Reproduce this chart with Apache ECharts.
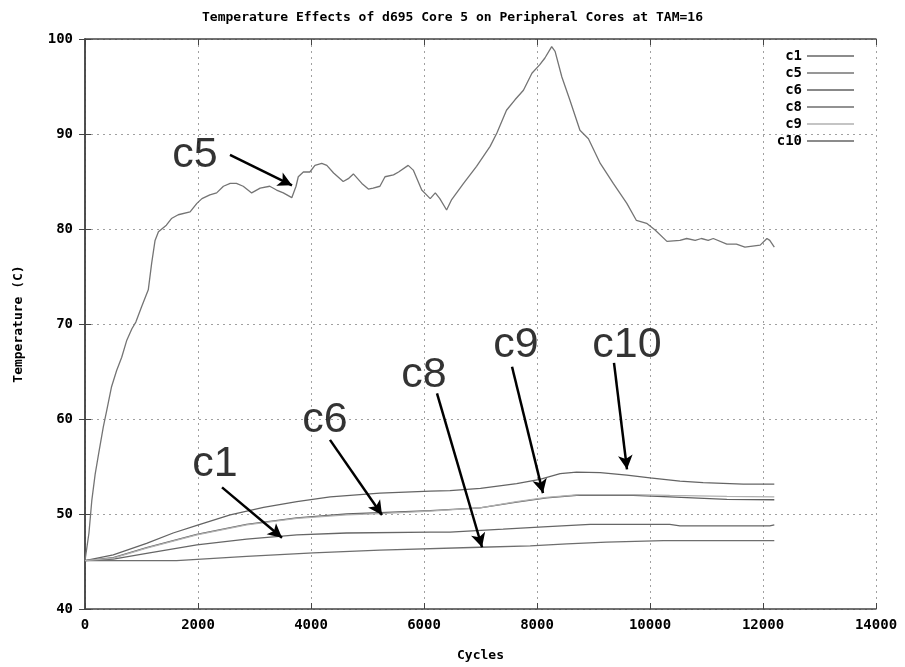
<!DOCTYPE html>
<html>
<head>
<meta charset="utf-8">
<script src="https://cdn.jsdelivr.net/npm/echarts@6/dist/echarts.min.js"></script>
<style>html,body{margin:0;padding:0;background:#fff}#chart{width:905px;height:667px}</style>
</head>
<body>
<div id="chart"></div>
<script>
// ---- data ----
var seriesNames = ['c1', 'c5', 'c6', 'c8', 'c9', 'c10'];

var c1X = [0, 500, 1090, 1980, 2860, 3750, 4630, 6110, 6460, 7400, 8110, 8940, 10350, 10530, 12120, 12200];
var c1Y = [45.1, 45.25, 45.85, 46.75, 47.35, 47.8, 48.0, 48.1, 48.1, 48.4, 48.65, 48.9, 48.9, 48.75, 48.75, 48.85];

var c5X = [0, 70, 120, 180, 240, 325, 385, 470, 560, 650, 740, 830, 900, 1000, 1120, 1180, 1240, 1300, 1440, 1530, 1650, 1860, 1980, 2070, 2210, 2330, 2450, 2570, 2680, 2800, 2950, 3100, 3270, 3390, 3510, 3660, 3735, 3775, 3865, 3980, 4070, 4190, 4280, 4400, 4570, 4660, 4750, 4900, 5015, 5100, 5220, 5310, 5460, 5550, 5720, 5810, 5960, 6110, 6200, 6280, 6400, 6490, 6700, 6930, 7170, 7290, 7460, 7610, 7760, 7910, 8050, 8140, 8260, 8320, 8440, 8580, 8760, 8910, 9120, 9350, 9590, 9760, 9940, 10090, 10300, 10530, 10650, 10800, 10910, 11030, 11120, 11360, 11530, 11680, 11950, 12070, 12120, 12200];
var c5Y = [45.1, 48.0, 51.4, 54.2, 56.3, 59.2, 60.9, 63.4, 65.1, 66.5, 68.3, 69.5, 70.2, 71.8, 73.6, 76.4, 78.8, 79.7, 80.4, 81.1, 81.5, 81.8, 82.7, 83.2, 83.6, 83.8, 84.5, 84.8, 84.8, 84.5, 83.8, 84.3, 84.5, 84.1, 83.8, 83.3, 84.5, 85.5, 86.0, 86.0, 86.7, 86.9, 86.7, 85.9, 85.0, 85.3, 85.8, 84.8, 84.2, 84.3, 84.5, 85.5, 85.7, 86.0, 86.7, 86.2, 84.1, 83.2, 83.8, 83.2, 82.0, 83.1, 84.8, 86.6, 88.7, 90.1, 92.5, 93.6, 94.6, 96.4, 97.3, 98.0, 99.2, 98.7, 96.0, 93.6, 90.4, 89.5, 86.9, 84.8, 82.7, 80.9, 80.6, 79.9, 78.7, 78.8, 79.0, 78.8, 79.0, 78.8, 79.0, 78.4, 78.4, 78.1, 78.3, 79.0, 78.8, 78.1];

var c6X = [0, 500, 1090, 1980, 2860, 3750, 4630, 5220, 6110, 6990, 7640, 8170, 8760, 9700, 10350, 11360, 12200];
var c6Y = [45.1, 45.4, 46.45, 47.85, 48.9, 49.6, 50.0, 50.15, 50.35, 50.65, 51.25, 51.7, 52.0, 51.95, 51.8, 51.55, 51.5];

var c8X = [0, 1620, 2860, 4040, 5220, 6990, 7880, 8530, 9230, 10240, 12200];
var c8Y = [45.1, 45.1, 45.55, 45.9, 46.2, 46.5, 46.65, 46.85, 47.05, 47.2, 47.2];

var c9X = [0, 500, 1090, 1980, 2860, 3750, 4630, 5220, 6110, 6990, 7640, 8170, 8760, 9700, 10350, 11360, 12200];
var c9Y = [45.1, 45.35, 46.4, 47.8, 48.85, 49.55, 49.9, 50.05, 50.3, 50.65, 51.3, 51.75, 52.05, 52.05, 51.95, 51.85, 51.8];

var c10X = [0, 500, 1090, 1560, 1980, 2570, 3160, 3750, 4340, 5220, 6110, 6460, 7000, 7640, 8050, 8410, 8700, 9120, 9590, 10000, 10530, 10940, 11650, 12200];
var c10Y = [45.1, 45.7, 46.9, 48.0, 48.8, 49.9, 50.7, 51.3, 51.8, 52.2, 52.4, 52.45, 52.7, 53.2, 53.65, 54.25, 54.4, 54.35, 54.1, 53.8, 53.45, 53.3, 53.15, 53.15];

// annotation labels (data coordinates) and arrows
var annotText = ['c5', 'c1', 'c6', 'c8', 'c9', 'c10'];
var annotX = [1947, 2301, 4248, 6000, 7628, 9593];
var annotY = [87.8, 55.2, 59.9, 64.6, 67.8, 67.8];
var arrowFromX = [2566, 2425, 4336, 6230, 7558, 9363];
var arrowFromY = [87.8, 52.8, 57.8, 62.7, 65.5, 65.9];
var arrowToX = [3664, 3487, 5257, 7027, 8106, 9593];
var arrowToY = [84.6, 47.5, 49.9, 46.5, 52.2, 54.7];

var xTicks = {min: 0, max: 14000, interval: 2000};
var yTicks = {min: 40, max: 100, interval: 10};

var colors = {c1: '#666666', c5: '#747474', c6: '#606060', c8: '#6e6e6e', c9: '#b0b0b0', c10: '#646464'};

// ---- build ----
function pairs(xs, ys) { return xs.map(function (x, i) { return [x, ys[i]]; }); }
var dataMap = {
  c1: pairs(c1X, c1Y), c5: pairs(c5X, c5Y), c6: pairs(c6X, c6Y),
  c8: pairs(c8X, c8Y), c9: pairs(c9X, c9Y), c10: pairs(c10X, c10Y)
};

var mono = 'DejaVu Sans Mono';
var tickFont = {fontFamily: mono, fontWeight: 'bold', fontSize: 14, color: '#000'};

var series = seriesNames.map(function (n) {
  return {
    name: n, type: 'line', data: dataMap[n], showSymbol: false, symbol: 'none',
    color: colors[n], lineStyle: {color: colors[n], width: 1.3},
    animation: false, z: n === 'c9' ? 3 : 2
  };
});

series.push({
  name: 'annot', type: 'scatter', symbolSize: 0, animation: false, silent: true, z: 10,
  data: annotText.map(function (t, i) { return {value: [annotX[i], annotY[i]], name: t}; }),
  label: {show: true, position: 'inside', formatter: function (p) { return p.name; },
          fontFamily: 'Liberation Sans', fontSize: 43, color: '#000'},
  markLine: {
    silent: true, animation: false, symbol: ['none', 'arrow'], symbolSize: [11, 14],
    lineStyle: {color: '#000', width: 2.5, type: 'solid'}, label: {show: false},
    data: arrowFromX.map(function (fx, i) {
      return [{coord: [fx, arrowFromY[i]]}, {coord: [arrowToX[i], arrowToY[i]]}];
    })
  }
});

var chart = echarts.init(document.getElementById('chart'), null, {renderer: 'canvas'});
var axisLineStyle = {show: true, lineStyle: {color: '#444', width: 1.5}};
var tickStyle = {show: true, inside: true, length: 6, lineStyle: {color: '#444', width: 1}};
var splitStyle = {show: true, lineStyle: {color: '#a0a0a0', type: [2, 4], width: 1}};

chart.setOption({
  backgroundColor: '#fff',
  animation: false,
  title: {
    text: 'Temperature Effects of d695 Core 5 on Peripheral Cores at TAM=16',
    left: 'center', top: 6,
    textStyle: {fontFamily: mono, fontWeight: 'bold', fontSize: 13, color: '#000'}
  },
  legend: {
    data: seriesNames, orient: 'vertical', right: 46, top: 44,
    icon: 'rect', itemWidth: 47, itemHeight: 1.5, itemGap: 3, align: 'right',
    textStyle: {fontFamily: mono, fontWeight: 'bold', fontSize: 14, color: '#000', width: 32, align: 'right'},
    selectedMode: false
  },
  grid: {left: 85, right: 29, top: 39, bottom: 58, containLabel: false},
  xAxis: [{
    type: 'value', min: xTicks.min, max: xTicks.max, interval: xTicks.interval,
    name: 'Cycles', nameLocation: 'middle', nameGap: 40,
    nameTextStyle: {fontFamily: mono, fontWeight: 'bold', fontSize: 13, color: '#000'},
    axisLine: axisLineStyle, axisTick: tickStyle, splitLine: splitStyle,
    axisLabel: Object.assign({margin: 9, formatter: function (v) { return String(v); }}, tickFont)
  }, {
    type: 'value', position: 'top', min: xTicks.min, max: xTicks.max, interval: xTicks.interval,
    axisLine: axisLineStyle, axisTick: tickStyle, splitLine: {show: false}, axisLabel: {show: false}
  }],
  yAxis: [{
    type: 'value', min: yTicks.min, max: yTicks.max, interval: yTicks.interval,
    name: 'Temperature (C)', nameLocation: 'middle', nameGap: 60, nameRotate: 90,
    nameTextStyle: {fontFamily: mono, fontWeight: 'bold', fontSize: 13, color: '#000'},
    axisLine: axisLineStyle, axisTick: tickStyle, splitLine: splitStyle,
    axisLabel: Object.assign({margin: 12, formatter: function (v) { return String(v); }}, tickFont)
  }, {
    type: 'value', position: 'right', min: yTicks.min, max: yTicks.max, interval: yTicks.interval,
    axisLine: axisLineStyle, axisTick: tickStyle, splitLine: {show: false}, axisLabel: {show: false}
  }],
  series: series
});
</script>
</body>
</html>
